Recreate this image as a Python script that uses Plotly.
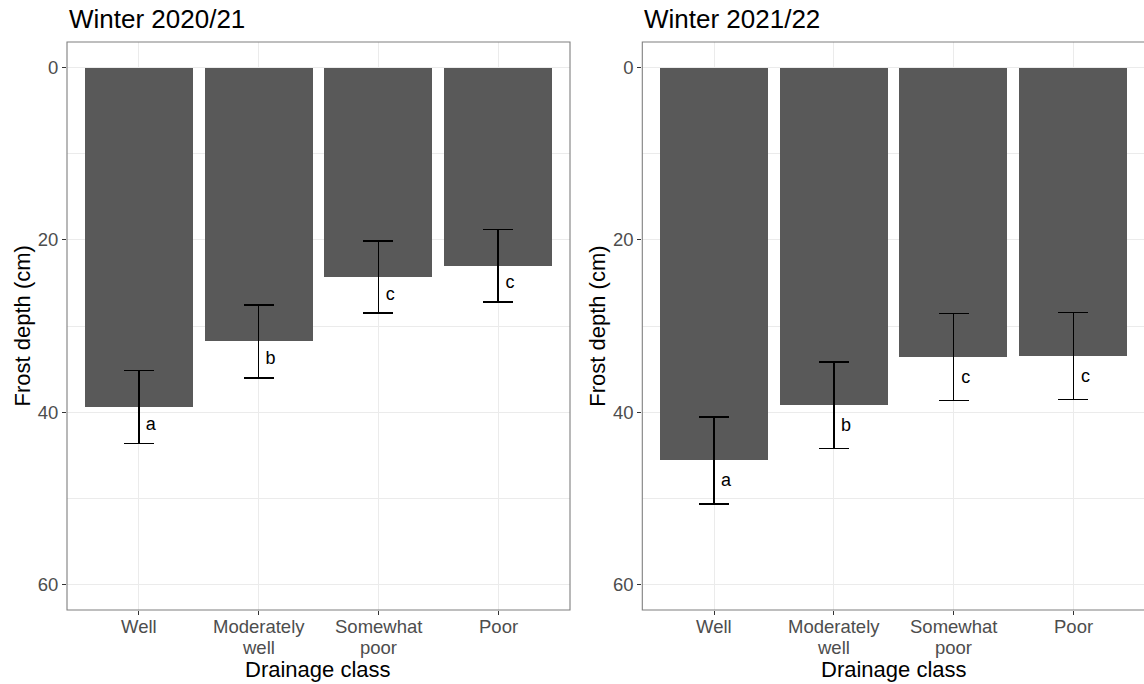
import plotly.graph_objects as go

# Frost depth by drainage class, two winters
drainage_classes = ["Well", "Moderately\nwell", "Somewhat\npoor", "Poor"]
winters = ["Winter 2020/21", "Winter 2021/22"]

depth_2020_21 = [39.4, 31.8, 24.3, 23.0]
se_2020_21 = [4.25, 4.25, 4.2, 4.2]
letters_2020_21 = ["a", "b", "c", "c"]

depth_2021_22 = [45.6, 39.2, 33.6, 33.5]
se_2021_22 = [5.05, 5.05, 5.05, 5.05]
letters_2021_22 = ["a", "b", "c", "c"]

y_ticks = [0, 20, 40, 60]

W, H = 1144, 684
FONT = "Liberation Sans, Arial, Helvetica, sans-serif"
BAR = "#595959"
GRID = "#ebebeb"
BORDER = "#7f7f7f"

# panel geometry in pixels
panel_top, panel_bottom = 42, 610
panels = [
    dict(x0=67.0, x1=570.0, xr=[-0.6, 3.6]),
    dict(x0=642.3, x1=1144.0, xr=[-0.6, -0.6 + (1144.0 - 642.3) / (503.0 / 4.2)]),
]

def px_x(p):
    return p / W

def px_y(p):
    return 1 - p / H

fig = go.Figure()
data = [
    (depth_2020_21, se_2020_21, letters_2020_21),
    (depth_2021_22, se_2021_22, letters_2021_22),
]
xpos = list(range(len(drainage_classes)))
annotations = []
shapes = []

for k, (depth, se, letters) in enumerate(data):
    xa = "x" if k == 0 else "x2"
    ya = "y" if k == 0 else "y2"
    fig.add_trace(go.Bar(
        x=xpos, y=depth, width=0.9,
        marker=dict(color=BAR, line=dict(width=0)),
        error_y=dict(type="data", array=se, symmetric=True,
                     color="black", thickness=1.6, width=15),
        xaxis=xa, yaxis=ya, showlegend=False, hoverinfo="skip",
    ))
    # significance letters beside each error bar
    fig.add_trace(go.Scatter(
        x=[i + 0.1 for i in xpos],
        y=[d + s / 2 for d, s in zip(depth, se)],
        text=letters, mode="text",
        textfont=dict(family=FONT, size=18, color="black"),
        textposition="middle center",
        xaxis=xa, yaxis=ya, showlegend=False, hoverinfo="skip",
    ))

    p = panels[k]
    # category labels (multi-line, tight spacing)
    for i, lab in enumerate(drainage_classes):
        for j, line in enumerate(lab.split("\n")):
            annotations.append(dict(
                x=i, xref=xa, y=px_y(626 + 21 * j), yref="paper",
                text=line, showarrow=False, xanchor="center", yanchor="middle",
                font=dict(family=FONT, size=18.5, color="#4d4d4d"),
            ))
    # axis titles and panel title
    annotations.append(dict(
        x=px_x((p["x0"] + (p["x0"] + 503.0)) / 2), xref="paper",
        y=px_y(669.5), yref="paper", text="Drainage class", showarrow=False,
        xanchor="center", yanchor="middle",
        font=dict(family=FONT, size=22, color="black"),
    ))
    annotations.append(dict(
        x=px_x(p["x0"] - 45.5), xref="paper",
        y=px_y((panel_top + panel_bottom) / 2), yref="paper",
        text="Frost depth (cm)", showarrow=False, textangle=-90,
        xanchor="center", yanchor="middle",
        font=dict(family=FONT, size=22, color="black"),
    ))
    annotations.append(dict(
        x=px_x(p["x0"]), xref="paper", y=px_y(19), yref="paper",
        text=winters[k], showarrow=False, xanchor="left", yanchor="middle",
        font=dict(family=FONT, size=26, color="black"),
    ))
    # panel border
    shapes.append(dict(
        type="rect", xref="paper", yref="paper",
        x0=px_x(p["x0"]), x1=px_x(p["x1"] + (0 if k == 0 else 6)),
        y0=px_y(panel_bottom), y1=px_y(panel_top),
        line=dict(color=BORDER, width=1.1), fillcolor="rgba(0,0,0,0)",
        layer="above",
    ))

xaxis_common = dict(
    tickvals=xpos, showticklabels=False, ticks="outside", ticklen=4,
    tickcolor="#333333", tickwidth=1, showgrid=True, gridcolor=GRID,
    gridwidth=1, zeroline=False, showline=False, fixedrange=True,
)
yaxis_common = dict(
    range=[63, -3], tickvals=y_ticks, ticks="outside", ticklen=4,
    tickcolor="#333333", tickwidth=1, showgrid=True, gridcolor=GRID,
    gridwidth=1, zeroline=False, showline=False,
    tickfont=dict(family=FONT, size=18.5, color="#4d4d4d"),
    minor=dict(dtick=10, tick0=0, showgrid=True, gridcolor=GRID, gridwidth=0.6),
    domain=[px_y(panel_bottom), px_y(panel_top)],
)

fig.update_layout(
    width=W, height=H,
    margin=dict(l=0, r=0, t=0, b=0),
    paper_bgcolor="white", plot_bgcolor="white",
    font=dict(family=FONT),
    xaxis=dict(xaxis_common, domain=[px_x(panels[0]["x0"]), px_x(panels[0]["x1"])],
               range=panels[0]["xr"], anchor="y"),
    xaxis2=dict(xaxis_common, domain=[px_x(panels[1]["x0"]), 1.0],
                range=panels[1]["xr"], anchor="y2"),
    yaxis=dict(yaxis_common, anchor="x"),
    yaxis2=dict(yaxis_common, anchor="x2"),
    annotations=annotations,
    shapes=shapes,
    bargap=0,
)

fig.write_html("out.html")
